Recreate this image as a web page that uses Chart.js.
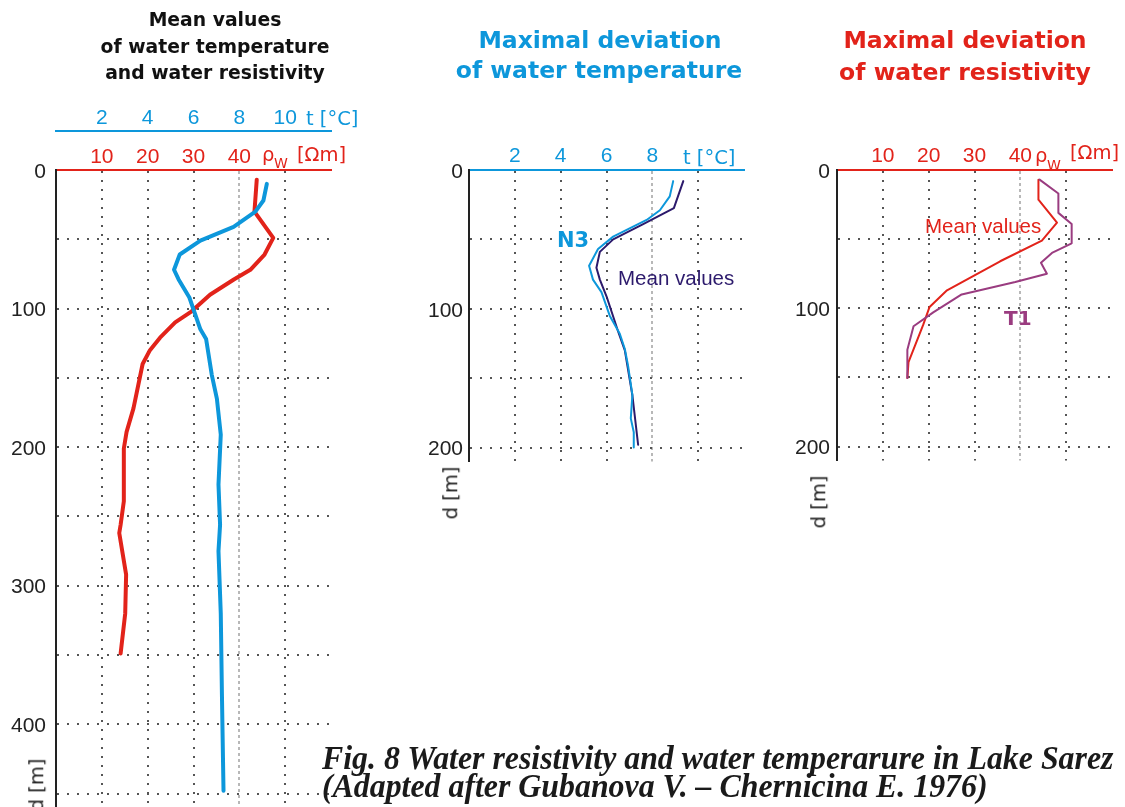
<!DOCTYPE html>
<html>
<head>
<meta charset="utf-8">
<title>Lake Sarez</title>
<script src="https://cdn.jsdelivr.net/npm/chart.js@4.4.1/dist/chart.umd.min.js"></script>
<style>
  html, body { margin: 0; padding: 0; background: #fff; }
  body { position: relative; width: 1125px; height: 807px; overflow: hidden; }
  canvas { position: absolute; top: 0; }
  .t { position: absolute; white-space: nowrap; line-height: 1; font-family: "DejaVu Sans", sans-serif; }
</style>
</head>
<body>
<canvas id="c1" width="345" height="830" style="left:0px"></canvas>
<canvas id="c2" width="360" height="480" style="left:400px"></canvas>
<canvas id="c3" width="355" height="480" style="left:770px"></canvas>
<script>
// values, depth in m
// panel 1 - mean values
let tempDepth1 = [10, 22, 30, 41, 51, 61, 72, 79, 92, 115, 122, 148, 165, 191, 227, 256, 275, 320, 378, 448]
let tempMean1 = [9.2, 9.05, 8.7, 7.75, 6.3, 5.4, 5.15, 5.35, 5.82, 6.3, 6.55, 6.8, 7.02, 7.19, 7.09, 7.16, 7.09, 7.19, 7.24, 7.31]
let resDepth1 = [7, 30, 49, 61, 72, 79, 90, 102, 110, 121, 130, 140, 172, 189, 201, 239, 256, 262, 292, 320, 349]
let resMean1 = [43.8, 43.3, 47.4, 45.5, 42.4, 38.8, 33.6, 29.6, 26.0, 22.7, 20.5, 18.9, 16.9, 15.4, 14.8, 14.8, 14.1, 13.8, 15.3, 15.1, 14.1]

// panel 2 - temperature, N3 vs mean
let n3Depth = [8, 19, 29, 36, 48, 57, 69, 79, 88, 105, 118, 129, 141, 162, 179, 189, 200]
let n3Temp = [8.91, 8.76, 8.33, 7.75, 6.29, 5.63, 5.24, 5.41, 5.78, 6.14, 6.58, 6.8, 6.94, 7.13, 7.06, 7.19, 7.19]
let mean2Depth = [8, 27.5, 39, 50, 59, 70.5, 79, 91, 116, 130, 162.5, 198]
let mean2Temp = [9.35, 8.94, 7.6, 6.29, 5.71, 5.56, 5.71, 6.0, 6.5, 6.8, 7.13, 7.38]

// panel 3 - resistivity, T1 vs mean
let mean3Depth = [7, 21.5, 38, 51, 66, 87, 99, 112, 139, 150.5]
let mean3Res = [43.95, 43.95, 48, 44.7, 35.6, 24, 20.2, 18.8, 15.6, 15.35]
let t1Depth = [7, 17, 31, 39, 53, 60, 67, 75, 81, 90, 103, 113, 130, 150.5]
let t1Res = [44.2, 48.3, 48.3, 51.2, 51.2, 46.9, 44.5, 45.8, 38.9, 27.2, 21.0, 16.7, 15.35, 15.35]

let tempTicks1 = [2, 4, 6, 8, 10]
let tempTicks2 = [2, 4, 6, 8]
let resTicks = [10, 20, 30, 40]

const BLUE = '#0d97db'
const RED = '#e2231a'
const NAVY = '#2c1a6c'
const PURPLE = '#9a3c80'
const GRID = '#555'
const LIGHTGRID = '#b8b8b8'
const NONE = 'rgba(0,0,0,0)'

const pts = (xs, ys) => xs.map((x, i) => ({ x: x, y: ys[i] }))

function line(xs, ys, color, width, xAxis) {
    return {
        data: pts(xs, ys), xAxisID: xAxis, yAxisID: 'y',
        showLine: true, borderColor: color, borderWidth: width,
        pointRadius: 0, borderJoinStyle: 'round', borderCapStyle: 'round'
    }
}

function depthAxis(max, width, pad) {
    return {
        type: 'linear', reverse: true, min: 0, max: max,
        afterFit: s => { s.width = width },
        ticks: {
            stepSize: 50, includeBounds: false, autoSkip: false, padding: pad, color: '#222',
            labelOffset: 2,
            font: { family: 'Liberation Sans', size: 21 },
            callback: v => v % 100 === 0 ? String(v) : ''
        },
        grid: { drawTicks: false, lineWidth: 2, color: c => (c.tick && c.tick.value === 0) ? NONE : GRID },
        border: { color: '#222', width: 2, dash: [2, 8] }
    }
}

function valueAxis(o) {
    return {
        type: 'linear', position: 'top', min: 0, max: o.max, weight: o.weight,
        afterFit: s => { s.height = o.height },
        ticks: {
            stepSize: o.step, autoSkip: false, maxRotation: 0, padding: o.pad, color: o.color,
            font: { family: 'Liberation Sans', size: 21 },
            callback: v => o.labels.includes(v) ? String(v) : ''
        },
        grid: {
            display: o.grid, drawTicks: false, lineWidth: 2,
            color: c => {
                let v = c.tick ? c.tick.value : null
                if (v === 0 || v === o.max) return NONE
                return v === o.light ? LIGHTGRID : GRID
            }
        },
        border: {
            color: o.color, width: 2,
            dash: c => (c.tick && c.tick.value === o.light) ? [3, 3] : [2, 7]
        }
    }
}

const common = {
    responsive: false, animation: false, events: [],
    plugins: { legend: { display: false }, tooltip: { enabled: false } }
}

new Chart(document.getElementById('c1'), {
    type: 'scatter',
    data: { datasets: [
        line(tempMean1, tempDepth1, BLUE, 4, 'xt'),
        line(resMean1, resDepth1, RED, 4, 'xr')
    ] },
    options: Object.assign({}, common, {
        layout: { padding: { top: 100, right: 14, bottom: 18, left: 0 } },
        scales: {
            xr: valueAxis({ max: 60, step: 10, labels: resTicks, color: RED, grid: true, light: 40, height: 39, pad: 0, weight: 1 }),
            xt: valueAxis({ max: 12, step: 2, labels: tempTicks1, color: BLUE, grid: false, height: 31, pad: 0, weight: 2 }),
            y: depthAxis(460, 56, 10)
        }
    })
})

new Chart(document.getElementById('c2'), {
    type: 'scatter',
    data: { datasets: [
        line(n3Temp, n3Depth, BLUE, 2, 'xt'),
        line(mean2Temp, mean2Depth, NAVY, 2, 'xt')
    ] },
    options: Object.assign({}, common, {
        layout: { padding: { top: 130, right: 16, bottom: 17, left: 0 } },
        scales: {
            xt: valueAxis({ max: 12, step: 2, labels: tempTicks2, color: BLUE, grid: true, light: 8, height: 40, pad: 1, weight: 1 }),
            y: depthAxis(210, 69, 6)
        }
    })
})

new Chart(document.getElementById('c3'), {
    type: 'scatter',
    data: { datasets: [
        line(t1Res, t1Depth, PURPLE, 2, 'xr'),
        line(mean3Res, mean3Depth, RED, 2, 'xr')
    ] },
    options: Object.assign({}, common, {
        layout: { padding: { top: 130, right: 13, bottom: 17, left: 0 } },
        scales: {
            xr: valueAxis({ max: 60, step: 10, labels: resTicks, color: RED, grid: true, light: 40, height: 40, pad: 1, weight: 1 }),
            y: depthAxis(210, 67, 7)
        }
    })
})

// text: left or centre x, baseline y
function txt(s, x, base, size, color, o) {
    o = o || {}
    let d = document.createElement('div')
    d.className = 't'
    d.textContent = s
    d.style.fontSize = size + 'px'
    d.style.color = color
    if (o.family) d.style.fontFamily = o.family
    if (o.bold) d.style.fontWeight = 'bold'
    if (o.italic) d.style.fontStyle = 'italic'
    let asc = o.asc || 0.846
    d.style.top = (base - asc * size) + 'px'
    d.style.left = x + 'px'
    let tf = ''
    if (o.center) tf += 'translateX(-50%) '
    if (o.sx) { tf += 'scaleX(' + o.sx + ')'; d.style.transformOrigin = o.center ? '50% 50%' : '0 50%' }
    if (tf) d.style.transform = tf
    document.body.appendChild(d)
    return d
}

function vtxt(s, cx, cy, size) {
    let d = document.createElement('div')
    d.className = 't'
    d.textContent = s
    d.style.fontSize = size + 'px'
    d.style.color = '#222'
    d.style.left = cx + 'px'
    d.style.top = cy + 'px'
    d.style.transform = 'translate(-50%,-50%) rotate(-90deg)'
    document.body.appendChild(d)
}

// titles
txt('Mean values', 215, 27, 18.8, '#111', { bold: true, center: true })
txt('of water temperature', 215, 54, 18.8, '#111', { bold: true, center: true })
txt('and water resistivity', 215, 80, 18.8, '#111', { bold: true, center: true })
txt('Maximal deviation', 600, 49, 23.5, BLUE, { bold: true, center: true })
txt('of water temperature', 599, 79, 23.5, BLUE, { bold: true, center: true })
txt('Maximal deviation', 965, 49, 23.5, RED, { bold: true, center: true })
txt('of water resistivity', 965, 81, 23.5, RED, { bold: true, center: true })

// axis units
txt('t [°C]', 306, 125.5, 19.5, BLUE)
txt('ρ', 262, 161, 19.5, RED)
txt('W', 274, 168, 14, RED)
txt('[Ωm]', 297, 161, 19.5, RED)
txt('t [°C]', 683, 164, 19.5, BLUE)
txt('ρ', 1035, 162, 19.5, RED)
txt('W', 1047, 170, 14, RED)
txt('[Ωm]', 1070, 159.5, 19.5, RED)

vtxt('d [m]', 37, 785, 19.5)
vtxt('d [m]', 451, 493, 19.5)
vtxt('d [m]', 819, 502, 19.5)

// curve labels
txt('N3', 557, 248, 21, BLUE, { bold: true })
txt('Mean values', 618, 285, 20.5, NAVY, { family: 'Liberation Sans' })
txt('Mean values', 925, 233, 20.5, RED, { family: 'Liberation Sans' })
txt('T1', 1004, 325, 20, PURPLE, { bold: true })

// caption
txt('Fig. 8 Water resistivity and water temperarure in Lake Sarez', 322, 770, 33, '#1a1a1a',
    { family: 'Liberation Serif', bold: true, italic: true, asc: 0.8375, sx: 0.965 })
txt('(Adapted after Gubanova V. \u2013 Chernicina E. 1976)', 322, 798, 33, '#1a1a1a',
    { family: 'Liberation Serif', bold: true, italic: true, asc: 0.8375, sx: 0.965 })
</script>
</body>
</html>
